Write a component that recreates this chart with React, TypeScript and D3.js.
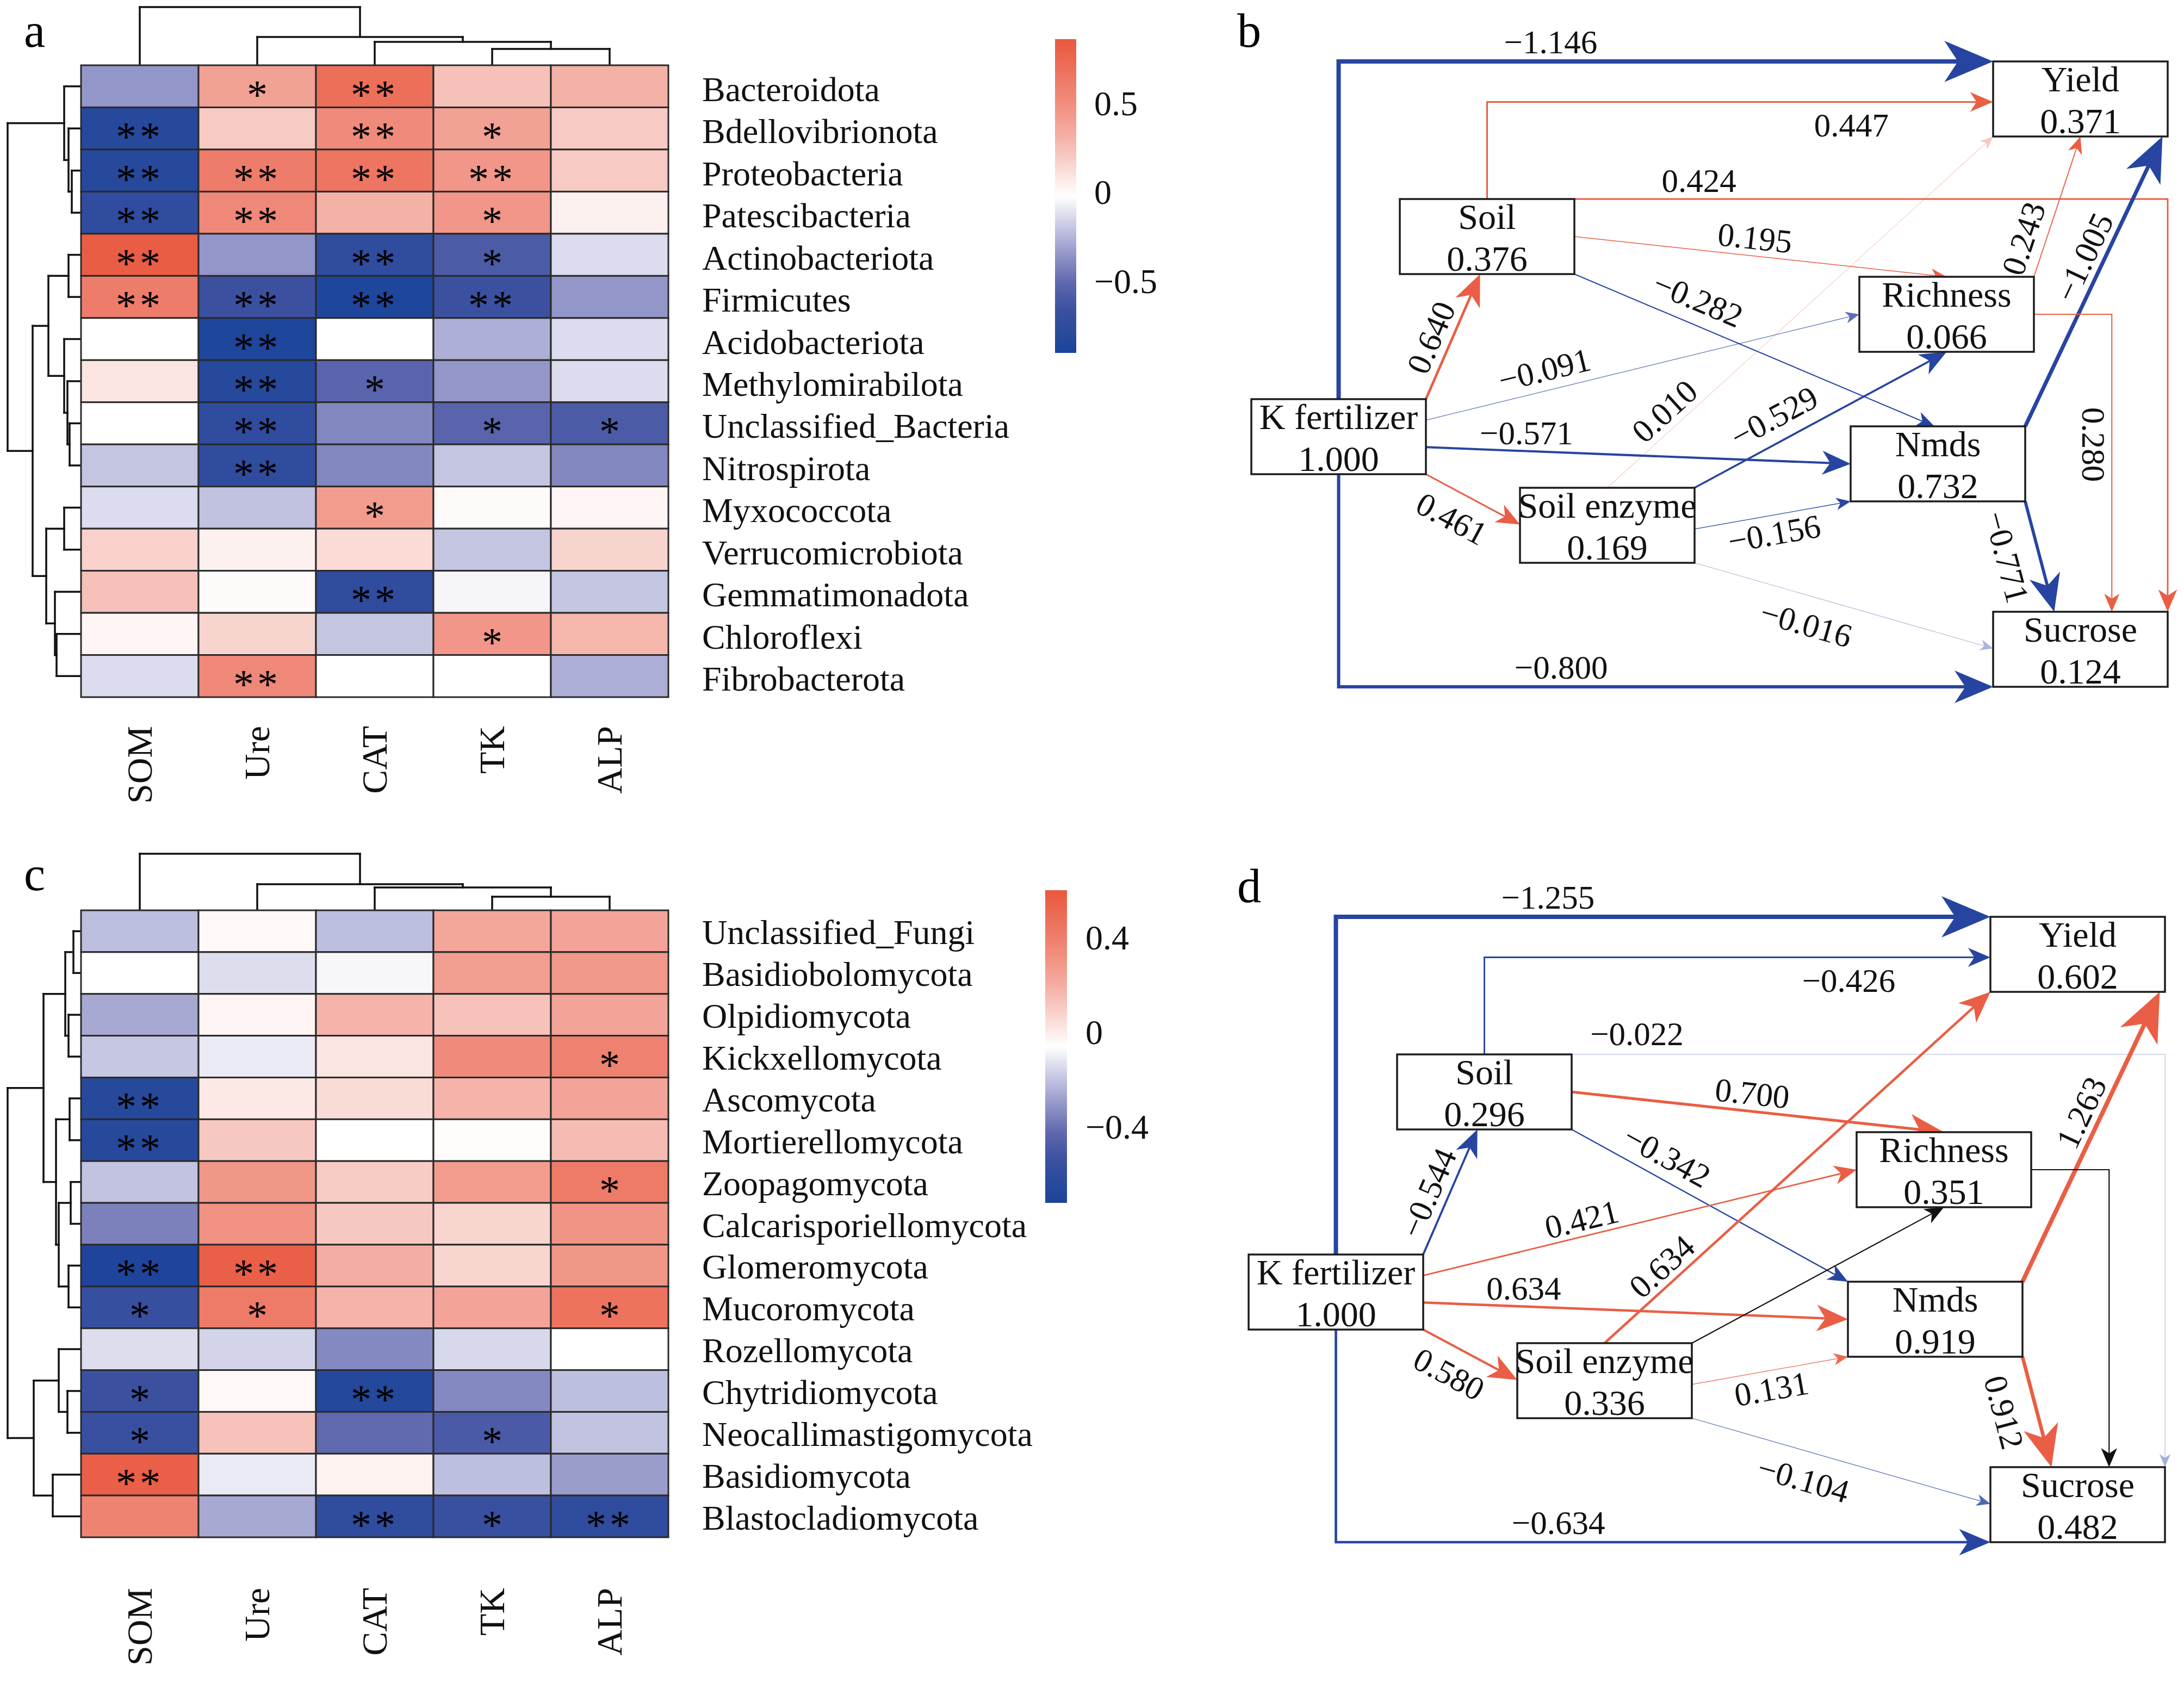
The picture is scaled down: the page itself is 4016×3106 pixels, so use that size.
import React from 'react';
import * as d3 from 'd3';

// ---------------- Heatmap data ----------------
const HEAT_COLS = ['SOM', 'Ure', 'CAT', 'TK', 'ALP'];

const BACT_ROWS = ['Bacteroidota', 'Bdellovibrionota', 'Proteobacteria', 'Patescibacteria', 'Actinobacteriota', 'Firmicutes', 'Acidobacteriota', 'Methylomirabilota', 'Unclassified_Bacteria', 'Nitrospirota', 'Myxococcota', 'Verrucomicrobiota', 'Gemmatimonadota', 'Chloroflexi', 'Fibrobacterota'];
const BACT_VALUES = [
  [-0.35, 0.39, 0.70, 0.24, 0.31],
  [-0.81, 0.20, 0.51, 0.39, 0.20],
  [-0.81, 0.61, 0.66, 0.45, 0.20],
  [-0.74, 0.53, 0.31, 0.45, 0.04],
  [0.82, -0.35, -0.74, -0.59, -0.13],
  [0.61, -0.66, -0.87, -0.66, -0.35],
  [-0.02, -0.87, -0.02, -0.27, -0.13],
  [0.09, -0.81, -0.53, -0.35, -0.13],
  [-0.02, -0.74, -0.40, -0.53, -0.59],
  [-0.20, -0.74, -0.40, -0.20, -0.40],
  [-0.13, -0.21, 0.42, 0.00, 0.02],
  [0.17, 0.04, 0.13, -0.20, 0.16],
  [0.24, 0.00, -0.74, -0.05, -0.20],
  [0.02, 0.16, -0.20, 0.45, 0.29],
  [-0.13, 0.53, -0.02, -0.02, -0.27],
];
const BACT_SIG = [
  ['', '*', '**', '', ''],
  ['**', '', '**', '*', ''],
  ['**', '**', '**', '**', ''],
  ['**', '**', '', '*', ''],
  ['**', '', '**', '*', ''],
  ['**', '**', '**', '**', ''],
  ['', '**', '', '', ''],
  ['', '**', '*', '', ''],
  ['', '**', '', '*', '*'],
  ['', '**', '', '', ''],
  ['', '', '*', '', ''],
  ['', '', '', '', ''],
  ['', '', '**', '', ''],
  ['', '', '', '*', ''],
  ['', '**', '', '', ''],
];
const BACT_RANGE: [number, number] = [-0.9, 0.86];
const BACT_TICKS = [0.5, 0, -0.5];

const FUNGI_ROWS = ['Unclassified_Fungi', 'Basidiobolomycota', 'Olpidiomycota', 'Kickxellomycota', 'Ascomycota', 'Mortierellomycota', 'Zoopagomycota', 'Calcarisporiellomycota', 'Glomeromycota', 'Mucoromycota', 'Rozellomycota', 'Chytridiomycota', 'Neocallimastigomycota', 'Basidiomycota', 'Blastocladiomycota'];
const FUNGI_VALUES = [
  [-0.21, -0.04, -0.21, 0.23, 0.24],
  [-0.06, -0.14, -0.08, 0.26, 0.28],
  [-0.26, -0.03, 0.18, 0.13, 0.24],
  [-0.19, -0.11, 0.02, 0.34, 0.39],
  [-0.65, 0.01, 0.05, 0.18, 0.24],
  [-0.65, 0.11, -0.06, -0.05, 0.15],
  [-0.20, 0.29, 0.10, 0.27, 0.42],
  [-0.36, 0.31, 0.11, 0.07, 0.30],
  [-0.70, 0.56, 0.20, 0.07, 0.29],
  [-0.56, 0.42, 0.18, 0.24, 0.46],
  [-0.14, -0.16, -0.34, -0.15, -0.06],
  [-0.54, -0.04, -0.67, -0.34, -0.21],
  [-0.55, 0.13, -0.42, -0.49, -0.20],
  [0.56, -0.11, -0.02, -0.21, -0.29],
  [0.38, -0.26, -0.60, -0.55, -0.60],
];
const FUNGI_SIG = [
  ['', '', '', '', ''],
  ['', '', '', '', ''],
  ['', '', '', '', ''],
  ['', '', '', '', '*'],
  ['**', '', '', '', ''],
  ['**', '', '', '', ''],
  ['', '', '', '', '*'],
  ['', '', '', '', ''],
  ['**', '**', '', '', ''],
  ['*', '*', '', '', '*'],
  ['', '', '', '', ''],
  ['*', '', '**', '', ''],
  ['*', '', '', '*', ''],
  ['**', '', '', '', ''],
  ['', '', '**', '*', '**'],
];
const FUNGI_RANGE: [number, number] = [-0.72, 0.6];
const FUNGI_TICKS = [0.4, 0, -0.4];

// dendrograms: leaf index or [merge height, left, right]
type Tree = number | [number, Tree, Tree];
const BACT_ROW_TREE: Tree = [135, [31, 0, [23, 1, [17, 2, 3]]], [89, [60, [23, 4, 5], [31, 6, [25, 7, [21, 8, 9]]]], [64, [31, 10, 11], [48, 12, [45, 13, 14]]]]];
const BACT_COL_TREE: Tree = [107, 0, [52, 1, [43, 2, [30, 3, 4]]]];
const FUNGI_ROW_TREE: Tree = [135, [69, [29, [14, 0, 1], [23, 2, 3]], [46, [21, 4, 5], [41, [19, 6, 7], [23, 8, 9]]]], [87, [41, 10, [25, 11, 12]], [52, 13, 14]]];
const FUNGI_COL_TREE: Tree = [104, 0, [48, 1, [42, 2, [25, 3, 4]]]];

// ---------------- Path model data ----------------
const NODES = ['Yield', 'Soil', 'Richness', 'K fertilizer', 'Nmds', 'Soil enzyme', 'Sucrose'];
const B_R2 = [0.371, 0.376, 0.066, 1.000, 0.732, 0.169, 0.124];
const D_R2 = [0.602, 0.296, 0.351, 1.000, 0.919, 0.336, 0.482];
// from, to (node indices)
const EDGES: [number, number][] = [[3, 0], [3, 6], [1, 0], [1, 6], [1, 2], [1, 4], [3, 2], [5, 0], [3, 4], [3, 1], [3, 5], [5, 2], [5, 4], [5, 6], [2, 0], [4, 0], [2, 6], [4, 6]];
// null = unlabeled path, NaN = path absent
const B_COEF: (number | null)[] = [-1.146, -0.800, 0.447, 0.424, 0.195, -0.282, -0.091, 0.010, -0.571, 0.640, 0.461, -0.529, -0.156, -0.016, 0.243, -1.005, 0.280, -0.771];
const D_COEF: (number | null)[] = [-1.255, -0.634, -0.426, -0.022, 0.700, -0.342, 0.421, 0.634, 0.634, -0.544, 0.580, null, 0.131, -0.104, NaN, 1.263, null, 0.912];

// ---------------- Layout / style ----------------
const FONT = 'Liberation Serif';
const POS_COLOR = '#e95e44';
const NEG_COLOR = '#2745a0';
const BOX_W = 321;
const BOX_H = 138;
const NODE_POS: [number, number][] = [[3665, 113], [2574, 366], [3419, 509], [2301, 734], [3403, 784], [2795, 897], [3665, 1125]];

type Side = 'T' | 'B' | 'L' | 'R';
interface Lab { seg?: number; t: number; off: number; rot?: number }
interface Geom { a: [Side, number]; b: [Side, number]; bD?: [Side, number]; via?: 'vh' | 'hv'; lab: Lab; labD?: Lab }
const EDGE_GEOM: Geom[] = [
  { a: ['T', 0.5], b: ['L', 0], via: 'vh', lab: { seg: 1, t: 0.324, off: -36 } },
  { a: ['B', 0.5], b: ['L', 1], via: 'vh', lab: { seg: 1, t: 0.34, off: -36 } },
  { a: ['T', 0.5], b: ['L', 0.54], via: 'vh', lab: { seg: 1, t: 0.72, off: 43 } },
  { a: ['R', 0], b: ['T', 1], via: 'hv', lab: { seg: 0, t: 0.21, off: -34 }, labD: { seg: 0, t: 0.11, off: -38 } },
  { a: ['R', 0.5], b: ['T', 0.5], lab: { t: 0.48, off: -33 } },
  { a: ['R', 1], b: ['T', 0.48], bD: ['T', 0], lab: { t: 0.317, off: -45 }, labD: { t: 0.306, off: -41 } },
  { a: ['R', 0.28], b: ['L', 0.5], lab: { t: 0.285, off: -38 }, labD: { t: 0.375, off: -31 } },
  { a: ['T', 0.5], b: ['B', 0], lab: { t: 0.18, off: -33 } },
  { a: ['R', 0.64], b: ['L', 0.5], lab: { t: 0.235, off: -33, rot: 0 } },
  { a: ['T', 1], b: ['B', 0.46], lab: { t: 0.43, off: -36 } },
  { a: ['B', 1], b: ['L', 0.49], lab: { t: 0.41, off: 50 } },
  { a: ['T', 1], b: ['B', 0.5], lab: { t: 0.362, off: -45 } },
  { a: ['R', 0.55], b: ['B', 0], lab: { t: 0.49, off: 34 } },
  { a: ['B', 1], b: ['L', 0.49], lab: { t: 0.40, off: 52 } },
  { a: ['T', 1], b: ['B', 0.5], lab: { t: 0.224, off: -40 } },
  { a: ['T', 1], b: ['B', 0.97], lab: { t: 0.555, off: -35 } },
  { a: ['R', 0.5], b: ['T', 0.68], via: 'hv', lab: { seg: 1, t: 0.438, off: 34 } },
  { a: ['B', 1], b: ['T', 0.35], lab: { t: 0.43, off: 59 } },
];

const widthScale = d3.scaleLinear().domain([0, 0.15, 0.45, 0.8, 1.15]).range([1, 1.3, 3, 6, 8]).clamp(true);
const opacityScale = d3.scaleLinear().domain([0, 0.05, 0.15]).range([0.28, 0.6, 1]).clamp(true);

function fmtSigned(v: number, digits: number) {
  const s = Math.abs(v).toFixed(digits);
  return v < 0 ? '\u2212' + s : s;
}

function makeColor(min: number, max: number) {
  const mid = (min + max) / 2;
  const h = (max - min) / 2;
  return d3.scaleLinear<string>()
    .domain([mid - h, mid - 0.72 * h, mid - 0.55 * h, mid - 0.35 * h, mid, mid + 0.25 * h, mid + 0.39 * h, mid + 0.59 * h, mid + h])
    .range(['#1a449a', '#3c51a0', '#6068ae', '#9a9ccc', '#ffffff', '#f7cac3', '#f4aea3', '#f08d7d', '#e9573e'])
    .interpolate(d3.interpolateRgb)
    .clamp(true);
}

interface Seg { h1: number; p1: number; h2: number; p2: number }
function dendroSegs(t: Tree, pos: (i: number) => number): Seg[] {
  const segs: Seg[] = [];
  function rec(n: Tree): { p: number; h: number } {
    if (typeof n === 'number') return { p: pos(n), h: 0 };
    const [h, a, b] = n;
    const A = rec(a);
    const B = rec(b);
    segs.push({ h1: h, p1: A.p, h2: h, p2: B.p });
    segs.push({ h1: A.h, p1: A.p, h2: h, p2: A.p });
    segs.push({ h1: B.h, p1: B.p, h2: h, p2: B.p });
    return { p: (A.p + B.p) / 2, h };
  }
  rec(t);
  return segs;
}

interface HeatProps {
  id: string;
  rows: string[];
  values: number[][];
  sig: string[][];
  range: [number, number];
  ticks: number[];
  top: number;
  bottom: number;
  rowTree: Tree;
  colTree: Tree;
  labelDy: number;
  colLabelY: number;
  bar: { x: number; w: number; y0: number; y1: number; labelX: number };
  letter: string;
  letterY: number;
}

const TXT = { fontFamily: FONT } as React.CSSProperties;

function Heatmap(p: HeatProps) {
  const left = 149;
  const right = 1229;
  const x = d3.scaleBand<string>().domain(HEAT_COLS).range([left, right]);
  const y = d3.scaleBand<string>().domain(p.rows).range([p.top, p.bottom]);
  const color = makeColor(p.range[0], p.range[1]);
  const bw = x.bandwidth();
  const bh = y.bandwidth();
  const rowSegs = dendroSegs(p.rowTree, (i) => (y(p.rows[i]) as number) + bh / 2);
  const colSegs = dendroSegs(p.colTree, (i) => (x(HEAT_COLS[i]) as number) + bw / 2);
  const hScale = d3.scaleLinear().domain([0, 1]).range([0, 1]);
  const barY = d3.scaleLinear().domain(p.range).range([p.bar.y1, p.bar.y0]);
  const stops = d3.range(0, 41).map((k) => {
    const v = p.range[0] + (k / 40) * (p.range[1] - p.range[0]);
    return { off: (p.bar.y1 - barY(v)) / (p.bar.y1 - p.bar.y0), c: color(v) };
  });
  return (
    <g>
      <text x={44} y={p.letterY} fontSize={88} style={TXT}>{p.letter}</text>
      <g stroke="#111" strokeWidth={3.5} fill="none">
        {rowSegs.map((s, i) => (
          <line key={i} x1={left - hScale(s.h1)} y1={s.p1} x2={left - hScale(s.h2)} y2={s.p2} strokeLinecap="square" />
        ))}
        {colSegs.map((s, i) => (
          <line key={'c' + i} x1={s.p1} y1={p.top - hScale(s.h1)} x2={s.p2} y2={p.top - hScale(s.h2)} strokeLinecap="square" />
        ))}
      </g>
      <g>
        {p.rows.map((r, ri) =>
          HEAT_COLS.map((c, ci) => (
            <rect key={r + c} x={x(c)} y={y(r)} width={bw} height={bh} fill={color(p.values[ri][ci])} stroke="#2a2a2a" strokeWidth={3} />
          ))
        )}
      </g>
      <g fontSize={76} textAnchor="middle" fill="#000" style={TXT}>
        {p.rows.map((r, ri) =>
          HEAT_COLS.map((c, ci) =>
            p.sig[ri][ci] ? (
              <text key={'s' + r + c} x={(x(c) as number) + bw / 2} y={(y(r) as number) + bh / 2 + 41} letterSpacing={p.sig[ri][ci].length > 1 ? 6 : 0}>
                {p.sig[ri][ci]}
              </text>
            ) : null
          )
        )}
      </g>
      <g fontSize={64} fill="#111" style={TXT}>
        {p.rows.map((r) => (
          <text key={'l' + r} x={1291} y={(y(r) as number) + bh / 2 + p.labelDy}>{r}</text>
        ))}
      </g>
      <g fontSize={66} fill="#111" textAnchor="end" style={TXT}>
        {HEAT_COLS.map((c) => (
          <text key={'cl' + c} transform={`translate(${(x(c) as number) + bw / 2 + 22},${p.colLabelY}) rotate(-90)`}>{c}</text>
        ))}
      </g>
      <defs>
        <linearGradient id={p.id} x1="0" y1="1" x2="0" y2="0">
          {stops.map((s, i) => (
            <stop key={i} offset={s.off} stopColor={s.c} />
          ))}
        </linearGradient>
      </defs>
      <rect x={p.bar.x} y={p.bar.y0} width={p.bar.w} height={p.bar.y1 - p.bar.y0} fill={`url(#${p.id})`} />
      <g fontSize={64} fill="#111" style={TXT}>
        {p.ticks.map((t) => (
          <text key={'t' + t} x={p.bar.labelX} y={barY(t)} dominantBaseline="central">{t === 0 ? '0' : fmtSigned(t, 1)}</text>
        ))}
      </g>
    </g>
  );
}

function anchor(n: number, side: Side, f: number): [number, number] {
  const [x, y] = NODE_POS[n];
  if (side === 'T') return [x + f * BOX_W, y];
  if (side === 'B') return [x + f * BOX_W, y + BOX_H];
  if (side === 'L') return [x, y + f * BOX_H];
  return [x + BOX_W, y + f * BOX_H];
}

function PathDiagram({ r2, coef, dx, dy, isD, letter }: { r2: number[]; coef: (number | null)[]; dx: number; dy: number; isD: boolean; letter: string }) {
  const line = d3.line();
  const edges = EDGES.map(([from, to], i) => {
    const c = coef[i];
    if (typeof c === 'number' && Number.isNaN(c)) return null;
    const g = EDGE_GEOM[i];
    const bs = isD && g.bD ? g.bD : g.b;
    const lab = isD && g.labD ? g.labD : g.lab;
    const p0 = anchor(from, g.a[0], g.a[1]);
    const p2 = anchor(to, bs[0], bs[1]);
    let pts: [number, number][] = [p0, p2];
    if (g.via === 'vh') pts = [p0, [p0[0], p2[1]], p2];
    if (g.via === 'hv') pts = [p0, [p2[0], p0[1]], p2];
    const w = c === null ? 2.2 : widthScale(Math.abs(c));
    const col = c === null ? '#111' : c > 0 ? POS_COLOR : NEG_COLOR;
    const op = c === null ? 1 : opacityScale(Math.abs(c));
    const n = pts.length;
    const [ax, ay] = pts[n - 2];
    const [tx, ty] = pts[n - 1];
    const len = Math.hypot(tx - ax, ty - ay);
    const ux = (tx - ax) / len;
    const uy = (ty - ay) / len;
    const L = 14 + 9.5 * w;
    const H = 6 + 4 * w;
    const linePts = pts.slice(0, n - 1).concat([[tx - 0.7 * L * ux, ty - 0.7 * L * uy]]) as [number, number][];
    const head = [
      [tx, ty],
      [tx - L * ux - H * uy, ty - L * uy + H * ux],
      [tx - 0.72 * L * ux, ty - 0.72 * L * uy],
      [tx - L * ux + H * uy, ty - L * uy - H * ux],
    ];
    let label = null as null | { x: number; y: number; rot: number; text: string };
    if (c !== null) {
      const s = lab.seg ?? 0;
      const [sx, sy] = pts[s];
      const [ex, ey] = pts[s + 1];
      const sl = Math.hypot(ex - sx, ey - sy);
      const vx = (ex - sx) / sl;
      const vy = (ey - sy) / sl;
      const lx = sx + lab.t * (ex - sx) + lab.off * -vy;
      const ly = sy + lab.t * (ey - sy) + lab.off * vx;
      const rot = lab.rot ?? (Math.atan2(vy, vx) * 180) / Math.PI;
      label = { x: lx, y: ly, rot, text: fmtSigned(c, 3) };
    }
    return { i, linePts, head, w, col, op, label };
  });
  return (
    <g style={TXT}>
      <text x={2275} y={86 + dy} fontSize={88} style={TXT}>{letter}</text>
      <g transform={`translate(${dx},${dy})`}>
        {edges.map((e) =>
          e ? (
            <g key={'e' + e.i} opacity={e.op}>
              <path d={line(e.linePts) as string} fill="none" stroke={e.col} strokeWidth={e.w} strokeLinejoin="miter" />
              <polygon points={e.head.map((q) => q.join(',')).join(' ')} fill={e.col} />
            </g>
          ) : null
        )}
        {NODES.map((name, k) => (
          <g key={name}>
            <rect x={NODE_POS[k][0]} y={NODE_POS[k][1]} width={BOX_W} height={BOX_H} fill="#fff" stroke="#1c1c1c" strokeWidth={3.5} />
            <text x={NODE_POS[k][0] + BOX_W / 2} y={NODE_POS[k][1] + 55} fontSize={66} textAnchor="middle" fill="#111" style={TXT}>{name}</text>
            <text x={NODE_POS[k][0] + BOX_W / 2} y={NODE_POS[k][1] + 132} fontSize={66} textAnchor="middle" fill="#111" style={TXT}>{r2[k].toFixed(3)}</text>
          </g>
        ))}
        {edges.map((e) =>
          e && e.label ? (
            <text key={'l' + e.i} transform={`translate(${e.label.x},${e.label.y}) rotate(${e.label.rot})`} fontSize={61} textAnchor="middle" dominantBaseline="central" fill="#111" style={TXT}>
              {e.label.text}
            </text>
          ) : null
        )}
      </g>
    </g>
  );
}

export default function App() {
  return (
    <svg width={4016} height={3106} viewBox="0 0 4016 3106" style={{ position: 'absolute', left: 0, top: 0, background: '#fff', fontFamily: FONT }}>
      <rect x={0} y={0} width={4016} height={3106} fill="#fff" />
      <Heatmap
        id="gradA"
        rows={BACT_ROWS}
        values={BACT_VALUES}
        sig={BACT_SIG}
        range={BACT_RANGE}
        ticks={BACT_TICKS}
        top={120}
        bottom={1282}
        rowTree={BACT_ROW_TREE}
        colTree={BACT_COL_TREE}
        labelDy={27}
        colLabelY={1335}
        bar={{ x: 1940, w: 39, y0: 72, y1: 649, labelX: 2012 }}
        letter="a"
        letterY={86}
      />
      <Heatmap
        id="gradC"
        rows={FUNGI_ROWS}
        values={FUNGI_VALUES}
        sig={FUNGI_SIG}
        range={FUNGI_RANGE}
        ticks={FUNGI_TICKS}
        top={1674}
        bottom={2827}
        rowTree={FUNGI_ROW_TREE}
        colTree={FUNGI_COL_TREE}
        labelDy={24}
        colLabelY={2920}
        bar={{ x: 1922, w: 40, y0: 1637, y1: 2212, labelX: 1996 }}
        letter="c"
        letterY={1637}
      />
      <PathDiagram r2={B_R2} coef={B_COEF} dx={0} dy={0} isD={false} letter="b" />
      <PathDiagram r2={D_R2} coef={D_COEF} dx={-5} dy={1573} isD={true} letter="d" />
    </svg>
  );
}
